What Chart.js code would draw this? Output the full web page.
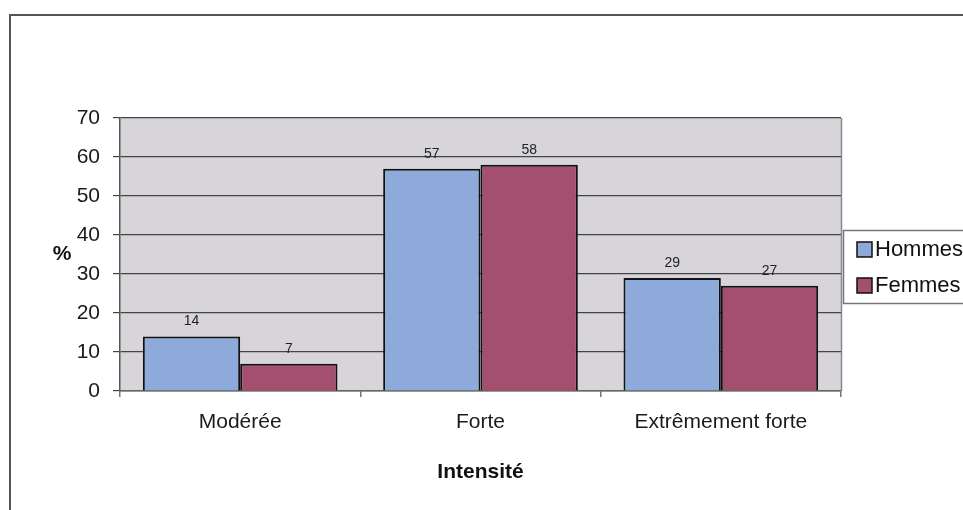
<!DOCTYPE html>
<html>
<head>
<meta charset="utf-8">
<script src="https://cdn.jsdelivr.net/npm/chart.js@4/dist/chart.umd.min.js"></script>
<style>
  html, body { margin: 0; padding: 0; background: #fff; overflow: hidden; }
  #wrap { position: relative; width: 963px; height: 510px; }
  #frame { position: absolute; left: 9px; top: 14px; width: 1000px; height: 600px;
           border-left: 2px solid #555; border-top: 2px solid #555; }
  canvas { position: absolute; left: 0; top: 0; }
</style>
</head>
<body>
<div id="wrap">
  <div id="frame"></div>
  <canvas id="chart" width="963" height="510"></canvas>
</div>
<script>
// values
const categories = ['Modérée', 'Forte', 'Extrêmement forte'];
const hommes = [14, 57, 29];
const femmes = [7, 58, 27];
const yTicks = [0, 10, 20, 30, 40, 50, 60, 70];

const FONT = '"Liberation Sans", Arial, sans-serif';

// plot background + right edge
const plotBg = {
    id: 'plotBg',
    beforeDraw(chart) {
        const { ctx, chartArea: a } = chart;
        ctx.save();
        ctx.fillStyle = '#d7d5d9';
        ctx.fillRect(a.left, a.top, a.right - a.left, a.bottom - a.top);
        ctx.strokeStyle = '#8a8a8a';
        ctx.lineWidth = 1.5;
        ctx.beginPath();
        ctx.moveTo(a.right + 0.5, a.top);
        ctx.lineTo(a.right + 0.5, a.bottom);
        ctx.stroke();
        ctx.restore();
    }
};

// value labels, "%" title, legend box
const extras = {
    id: 'extras',
    afterDatasetsDraw(chart) {
        const { ctx } = chart;
        ctx.save();
        ctx.fillStyle = '#222';
        ctx.font = '14px ' + FONT;
        ctx.textAlign = 'center';
        ctx.textBaseline = 'bottom';
        chart.data.datasets.forEach((ds, i) => {
            chart.getDatasetMeta(i).data.forEach((el, j) => {
                ctx.fillText(ds.data[j], el.x, el.y - 8);
            });
        });

        ctx.fillStyle = '#111';
        ctx.font = 'bold 21px ' + FONT;
        ctx.textBaseline = 'middle';
        ctx.fillText('%', 62, 254);

        // legend
        const lx = 843, ly = 230;
        ctx.fillStyle = '#fff';
        ctx.fillRect(lx, ly, 140, 73);
        ctx.strokeStyle = '#777';
        ctx.lineWidth = 1.5;
        ctx.strokeRect(lx + 0.5, ly + 0.5, 140, 73);
        ctx.font = '22px ' + FONT;
        ctx.textAlign = 'left';
        chart.data.datasets.forEach((ds, i) => {
            const cy = 249 + i * 36;
            ctx.fillStyle = ds.backgroundColor;
            ctx.fillRect(857, cy - 7, 15, 15);
            ctx.strokeStyle = '#111';
            ctx.lineWidth = 1.5;
            ctx.strokeRect(857, cy - 7, 15, 15);
            ctx.fillStyle = '#111';
            ctx.fillText(ds.label, 875, cy + 1);
        });
        ctx.restore();
    }
};

new Chart(document.getElementById('chart'), {
    type: 'bar',
    data: {
        labels: categories,
        datasets: [
            { label: 'Hommes', data: hommes, backgroundColor: '#8eaadb', borderColor: '#111', borderWidth: 2 },
            { label: 'Femmes', data: femmes, backgroundColor: '#a54f6f', borderColor: '#111', borderWidth: 2 }
        ]
    },
    options: {
        responsive: false,
        animation: false,
        categoryPercentage: 0.81,
        barPercentage: 1,
        layout: { padding: { left: 0, top: 118, right: 122, bottom: 0 } },
        plugins: { legend: { display: false }, tooltip: { enabled: false } },
        scales: {
            x: {
                afterFit: s => { s.height = 119; },
                grid: { drawOnChartArea: false, tickLength: 6, color: '#777', lineWidth: 1.5 },
                border: { color: '#666', width: 1.5 },
                ticks: { color: '#1a1a1a', padding: 13, font: { family: FONT, size: 21 } },
                title: {
                    display: true, text: 'Intensité', color: '#111',
                    font: { family: FONT, size: 21, weight: 'bold' },
                    padding: { top: 0, bottom: 25 }
                }
            },
            y: {
                min: 0, max: 70,
                afterFit: s => { s.width = 120; },
                afterBuildTicks: s => { s.ticks = yTicks.map(v => ({ value: v })); },
                grid: { color: '#444', tickLength: 7, lineWidth: 1.2 },
                border: { color: '#555', width: 1.5 },
                ticks: { color: '#1a1a1a', padding: 13, font: { family: FONT, size: 21 } }
            }
        }
    },
    plugins: [plotBg, extras]
});
</script>
</body>
</html>
